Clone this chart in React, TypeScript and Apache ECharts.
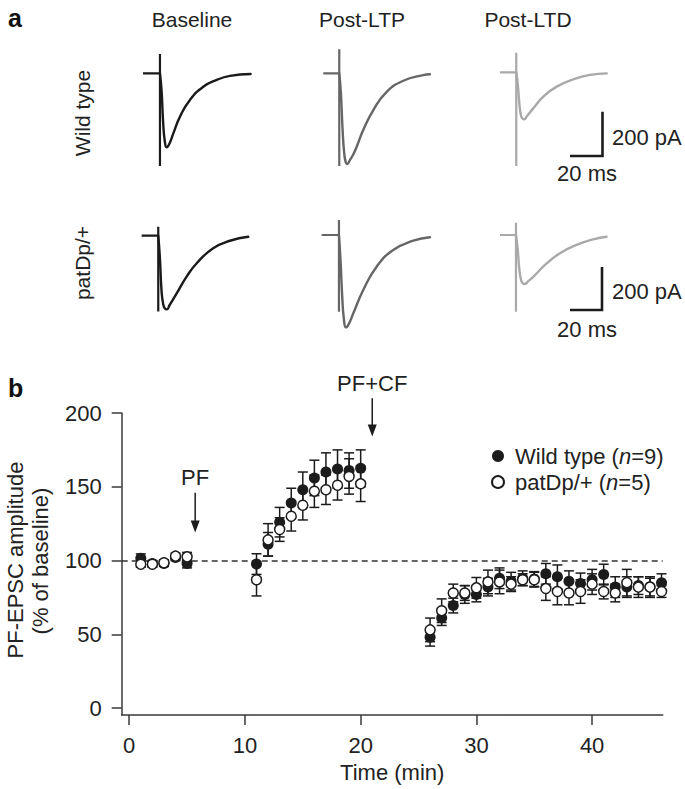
import React, { useEffect, useRef } from "react";
import * as echarts from "echarts";

const FONT = '"Liberation Sans", Arial, Helvetica, sans-serif';
const INK = "#1c1c1c";
const TEXT = "#222";

// ---------- Panel b data ----------
const timeMin = [1, 2, 3, 4, 5, 11, 12, 13, 14, 15, 16, 17, 18, 19, 20, 26, 27, 28, 29, 30, 31, 32, 33, 34, 35, 36, 37, 38, 39, 40, 41, 42, 43, 44, 45, 46];
const wtMean = [101.5, 98, 98, 102, 98, 97.6, 111, 126, 139, 148, 156, 160, 162, 161, 162.5, 48, 61, 69.5, 77, 77, 82, 88, 86, 88, 87.5, 91, 89, 86, 84.5, 87, 90.5, 82, 82, 83, 82, 85];
const wtSem = [3, 2, 2, 2, 3, 7, 8, 10, 10, 12, 12, 13, 13, 12, 12.5, 6, 5, 5, 6, 5, 6, 7, 6, 5, 5, 7, 8, 7, 7, 7, 7, 7, 7, 6, 7, 6];
const patMean = [97.5, 97.5, 98.5, 103, 102.5, 87, 114, 121, 130, 137.5, 147, 148, 151, 157, 152, 53, 66, 78, 78, 81.5, 85.5, 85.5, 84, 87, 87, 81, 79, 78, 79, 84, 79, 78, 85, 82, 82, 79];
const patSem = [2, 2, 2, 2, 3, 11, 11, 8, 10, 10, 11, 10, 10, 12, 12, 8, 8, 6, 5, 7, 8, 8, 5, 4, 5, 8, 9, 8, 8, 7, 5, 6, 9, 7, 6, 4];
const xTicks = [0, 10, 20, 30, 40];
const yTicks = [0, 50, 100, 150, 200];
const arrows = [
  { time: 5.7, from: 146, to: 119, label: "PF" },
  { time: 21, from: 210, to: 184, label: "PF+CF" },
];

// ---------- Panel a traces: [ms, pA] ----------
const wtBaselineTrace = [[-10.4, 0], [0, 0], [1, -80], [2, -230], [3, -310], [4.1, -336], [5.5, -325], [8.2, -273], [12.3, -197], [18.4, -121], [26.6, -61], [34.8, -30], [42.9, -12], [55.6, -3]];
const wtLtpTrace = [[-9.8, 0], [0, 0], [1, -90], [2, -250], [3, -360], [4, -405], [4.9, -412], [6.5, -395], [8.5, -370], [10.7, -334], [14.7, -258], [20.9, -167], [29.1, -84], [39.3, -34], [51.5, -8], [55.6, -4]];
const wtLtdTrace = [[-10, 0], [0, 0], [1, -60], [2, -150], [3, -200], [4, -212], [4.9, -214], [6.5, -200], [10.4, -164], [16.6, -111], [24.8, -65], [35, -32], [45.2, -12], [55.5, -5]];
const patBaselineTrace = [[-10.2, 0], [0, 0], [1, -100], [2, -250], [3, -310], [4, -330], [5.2, -335], [7, -315], [11.3, -262], [17.4, -186], [23.6, -125], [33.7, -57], [44, -23], [55.2, -5]];
const patLtpTrace = [[-10.6, 0], [0, 0], [1, -120], [2, -280], [3, -380], [4.3, -420], [6, -405], [8.8, -356], [14.9, -250], [23.1, -144], [33.3, -68], [45.6, -26], [55.8, -10]];
const patLtdTrace = [[-9.8, 0], [0, 0], [1, -60], [2, -150], [3, -200], [4, -218], [5.5, -223], [7.5, -210], [10.6, -190], [18.8, -129], [27, -83], [37.2, -45], [47.4, -20], [55.6, -8]];
// stimulus artifact extent [top pA, bottom pA]
const wtBaselineArtifact = [88, -421];
const wtLtpArtifact = [109, -421];
const wtLtdArtifact = [89, -426];
const patBaselineArtifact = [41, -345];
const patLtpArtifact = [68, -349];
const patLtdArtifact = [56, -349];

const columnTitles = ["Baseline", "Post-LTP", "Post-LTD"];
const rowTitles = ["Wild type", "patDp/+"];

export default function App() {
  const ref = useRef<HTMLDivElement>(null);

  useEffect(() => {
    if (!ref.current) return;
    const chart = echarts.init(ref.current, null, { renderer: "svg" });

    const MS = 1.63; // px per ms
    const PA = 0.22; // px per pA
    const tMin = -12, tMax = 62, iMin = -450, iMax = 110;
    const gw = (tMax - tMin) * MS;
    const gh = (iMax - iMin) * PA;

    const traces = [
      { data: wtBaselineTrace, art: wtBaselineArtifact, left: 140.4, top: 49.1, color: "#1a1a1a" },
      { data: wtLtpTrace, art: wtLtpArtifact, left: 319.7, top: 49.1, color: "#666666" },
      { data: wtLtdTrace, art: wtLtdArtifact, left: 496.7, top: 48.1, color: "#a9a9a9" },
      { data: patBaselineTrace, art: patBaselineArtifact, left: 138.7, top: 211.5, color: "#1a1a1a" },
      { data: patLtpTrace, art: patLtpArtifact, left: 319.4, top: 210.8, color: "#666666" },
      { data: patLtdTrace, art: patLtdArtifact, left: 496.4, top: 210.8, color: "#a9a9a9" },
    ];

    const grids: any[] = [];
    const xAxes: any[] = [];
    const yAxes: any[] = [];
    const series: any[] = [];

    traces.forEach((tr, i) => {
      grids.push({ left: tr.left, top: tr.top, width: gw, height: gh });
      xAxes.push({ type: "value", gridIndex: i, min: tMin, max: tMax, show: false });
      yAxes.push({ type: "value", gridIndex: i, min: iMin, max: iMax, show: false });
      const pre = tr.data.filter((p) => p[0] <= 0);
      const post = tr.data.filter((p) => p[0] >= 0);
      // response (smoothed)
      series.push({
        type: "line", xAxisIndex: i, yAxisIndex: i, data: post,
        showSymbol: false, smooth: 0.5,
        lineStyle: { color: tr.color, width: 2.4, join: "round", cap: "round" }, silent: true,
      });
      // pre-stimulus baseline and stimulus artifact
      series.push({
        type: "line", xAxisIndex: i, yAxisIndex: i,
        data: pre.concat([[0, tr.art[0]], [0, tr.art[1]]]),
        showSymbol: false, lineStyle: { color: tr.color, width: 2.2 }, silent: true,
      });
    });

    const M = traces.length;
    grids.push({ left: 121.7, top: 413, right: 22.3, bottom: 74 });
    const axisLineStyle = { color: "#3a3a3a", width: 1.5 };
    xAxes.push({
      type: "value", gridIndex: M, min: -0.65, max: 46.1,
      axisLine: { show: true, onZero: false, lineStyle: axisLineStyle },
      axisTick: { show: true, length: 10, customValues: xTicks, lineStyle: axisLineStyle },
      axisLabel: { customValues: xTicks, margin: 19, fontSize: 22, color: TEXT, fontFamily: FONT },
      splitLine: { show: false },
      name: "Time (min)", nameLocation: "middle", nameGap: 46,
      nameTextStyle: { fontSize: 22, color: TEXT, fontFamily: FONT },
    });
    yAxes.push({
      type: "value", gridIndex: M, min: -4.7, max: 200,
      axisLine: { show: true, onZero: false, lineStyle: axisLineStyle },
      axisTick: { show: true, length: 10, customValues: yTicks, lineStyle: axisLineStyle },
      axisLabel: { customValues: yTicks, margin: 20, fontSize: 22, color: TEXT, fontFamily: FONT },
      splitLine: { show: false },
    });

    const errRender = (params: any, api: any) => {
      const x = api.value(0);
      const lo = api.coord([x, api.value(1)]);
      const hi = api.coord([x, api.value(2)]);
      const hw = 5;
      const style = { stroke: INK, lineWidth: 1.5, fill: null };
      return {
        type: "group",
        children: [
          { type: "line", shape: { x1: lo[0], y1: lo[1], x2: hi[0], y2: hi[1] }, style },
          { type: "line", shape: { x1: lo[0] - hw, y1: lo[1], x2: lo[0] + hw, y2: lo[1] }, style },
          { type: "line", shape: { x1: hi[0] - hw, y1: hi[1], x2: hi[0] + hw, y2: hi[1] }, style },
        ],
      };
    };

    const wtErr = timeMin.map((t, i) => [t, wtMean[i] - wtSem[i], wtMean[i] + wtSem[i]]);
    const patErr = timeMin.map((t, i) => [t, patMean[i] - patSem[i], patMean[i] + patSem[i]]);

    series.push({
      type: "custom", xAxisIndex: M, yAxisIndex: M, renderItem: errRender,
      data: wtErr, encode: { x: 0, y: [1, 2] }, z: 3, silent: true,
    });
    series.push({
      name: "Wild type", type: "scatter", xAxisIndex: M, yAxisIndex: M,
      data: timeMin.map((t, i) => [t, wtMean[i]]),
      symbol: "circle", symbolSize: 11,
      itemStyle: { color: INK, opacity: 1 }, z: 4,
      markLine: {
        silent: true, symbol: ["none", "none"], animation: false, z: 1,
        lineStyle: { color: "#333", width: 1.5, type: [6, 4] },
        label: { show: false },
        data: [{ yAxis: 100 }],
      },
    });
    series.push({
      type: "custom", xAxisIndex: M, yAxisIndex: M, renderItem: errRender,
      data: patErr, encode: { x: 0, y: [1, 2] }, z: 5, silent: true,
    });
    series.push({
      name: "patDp/+", type: "scatter", xAxisIndex: M, yAxisIndex: M,
      data: timeMin.map((t, i) => [t, patMean[i]]),
      symbol: "circle", symbolSize: 10,
      itemStyle: { color: "#ffffff", borderColor: INK, borderWidth: 1.5, opacity: 1 }, z: 6,
    });

    const txt = (text: string, x: number, y: number, o: any = {}) => ({
      type: "text", x, y, rotation: o.rotation || 0, silent: true,
      style: {
        text, fontSize: o.fontSize || 21, fontFamily: FONT, fill: o.fill || TEXT,
        fontWeight: o.fontWeight || "normal",
        align: o.align || "center", verticalAlign: o.verticalAlign || "middle",
      },
    });

    const graphic: any[] = [
      txt("a", 8, 18, { fontSize: 25, fontWeight: "bold", align: "left", fill: "#111" }),
      txt("b", 8, 388, { fontSize: 25, fontWeight: "bold", align: "left", fill: "#111" }),
      txt(columnTitles[0], 192, 19),
      txt(columnTitles[1], 362, 19),
      txt(columnTitles[2], 528, 19),
      txt(rowTitles[0], 82, 113, { rotation: Math.PI / 2 }),
      txt(rowTitles[1], 82, 263, { rotation: Math.PI / 2 }),
      { type: "polyline", silent: true, shape: { points: [[602.5, 111.7], [602.5, 156], [570, 156]] }, style: { stroke: INK, lineWidth: 2.6, fill: null } },
      { type: "polyline", silent: true, shape: { points: [[602, 267], [602, 310], [570, 310]] }, style: { stroke: INK, lineWidth: 2.6, fill: null } },
      txt("200 pA", 612, 137, { align: "left", fontSize: 22 }),
      txt("20 ms", 587, 173, { fontSize: 22 }),
      txt("200 pA", 612, 291, { align: "left", fontSize: 22 }),
      txt("20 ms", 587, 329, { fontSize: 22 }),
      txt("PF-EPSC amplitude", 15, 560, { rotation: Math.PI / 2, fontSize: 22 }),
      txt("(% of baseline)", 40, 561, { rotation: Math.PI / 2, fontSize: 22 }),
    ];

    const option: any = {
      animation: false,
      backgroundColor: "#ffffff",
      grid: grids,
      xAxis: xAxes,
      yAxis: yAxes,
      series,
      graphic,
      legend: {
        orient: "vertical", left: 486, top: 440, itemWidth: 24, itemHeight: 12, itemGap: 4,
        data: ["Wild type", "patDp/+"], selectedMode: false,
        formatter: (name: string) =>
          name === "Wild type" ? "{a|Wild type (}{i|n}{a|=9)}" : "{a|patDp/+ (}{i|n}{a|=5)}",
        textStyle: {
          fontSize: 22, fontFamily: FONT, color: TEXT,
          rich: {
            a: { fontSize: 22, fontFamily: FONT, color: TEXT, lineHeight: 24 },
            i: { fontSize: 22, fontFamily: FONT, color: TEXT, fontStyle: "italic", lineHeight: 24 },
          },
        },
      },
    };
    chart.setOption(option);

    // Stimulus arrows, positioned through the main grid's scales
    const arrowGraphics: any[] = [];
    arrows.forEach((a) => {
      const p0 = chart.convertToPixel({ gridIndex: M } as any, [a.time, a.from]) as number[];
      const p1 = chart.convertToPixel({ gridIndex: M } as any, [a.time, a.to]) as number[];
      const head = 12, hw = 4.5;
      arrowGraphics.push({
        type: "line", silent: true,
        shape: { x1: p0[0], y1: p0[1], x2: p1[0], y2: p1[1] - head + 1 },
        style: { stroke: INK, lineWidth: 1.5 },
      });
      arrowGraphics.push({
        type: "polygon", silent: true,
        shape: { points: [[p1[0] - hw, p1[1] - head], [p1[0] + hw, p1[1] - head], [p1[0], p1[1]]] },
        style: { fill: INK },
      });
      arrowGraphics.push(txt(a.label, p0[0], p0[1] - 4, { fontSize: 22, verticalAlign: "bottom" }));
    });
    chart.setOption({ graphic: graphic.concat(arrowGraphics) });

    return () => chart.dispose();
  }, []);

  return (
    <div
      ref={ref}
      style={{ position: "absolute", left: 0, top: 0, width: 685, height: 789, background: "#fff" }}
    />
  );
}
